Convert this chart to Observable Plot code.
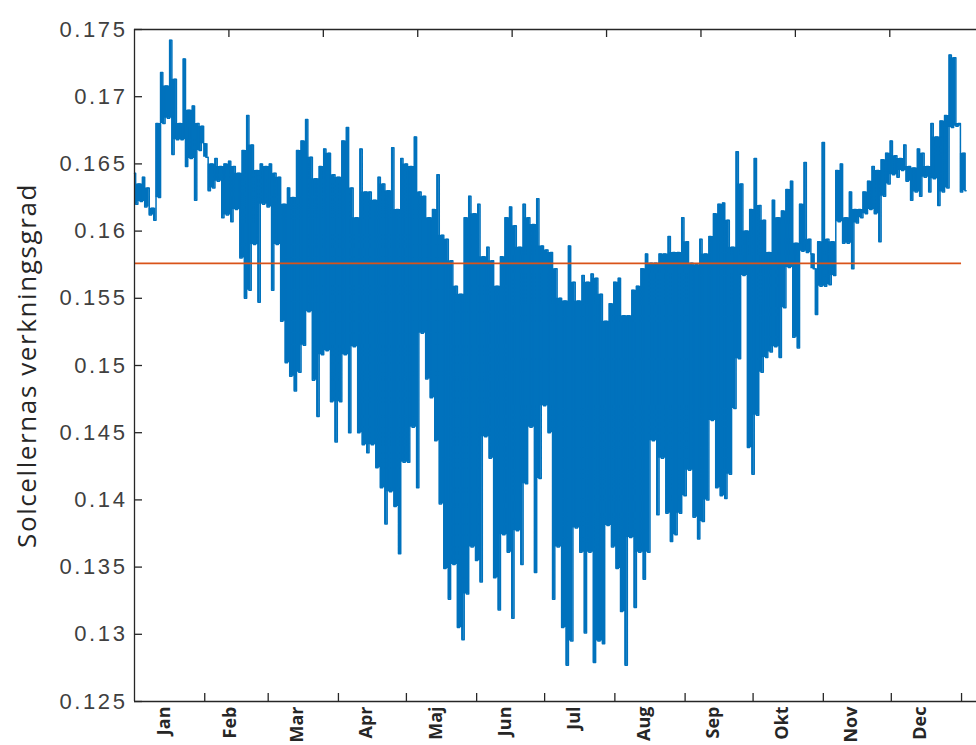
<!DOCTYPE html>
<html><head><meta charset="utf-8">
<script src="https://cdn.jsdelivr.net/npm/d3@7"></script>
<script src="https://cdn.jsdelivr.net/npm/@observablehq/plot@0.6"></script>
<style>
body{margin:0;background:#fff;}
#chart svg{display:block;}
g[font-size="22"] text{letter-spacing:2.6px;}
g[font-size="26"] text{letter-spacing:1.6px;}
</style></head><body><div id="chart"></div>
<script>
// Month labels (centred in each month) and month boundaries in day-of-year
const months = ["Jan","Feb","Mar","Apr","Maj","Jun","Jul","Aug","Sep","Okt","Nov","Dec"];
const monthStart = [0,31,59,90,120,151,181,212,243,273,304,334,365];
// Top-axis ticks are in hours of the year
const topTickHours = [1000,2000,3000,4000,5000,6000,7000,8000];
const yTicks = [0.125,0.13,0.135,0.14,0.145,0.15,0.155,0.16,0.165,0.17,0.175];
const yTitle = "Solcellernas verkningsgrad";
const meanEff = 0.1576;
const meanSpan = [0, 365];
// Envelope of the efficiency trace, one sample every 2 days (upper / lower extent)
const sampleStep = 2;
const effHigh = [
.1643,.1635,.1640,.1632,.1617,.1680,.1718,.1708,.1742,.1713,
.1680,.1728,.1690,.1693,.1680,.1678,.1655,.1650,.1654,.1648,
.1650,.1652,.1648,.1643,.1660,.1686,.1664,.1645,.1650,.1648,
.1650,.1643,.1640,.1620,.1632,.1625,.1660,.1667,.1683,.1655,
.1639,.1648,.1661,.1658,.1642,.1640,.1667,.1677,.1632,.1610,
.1661,.1629,.1629,.1623,.1640,.1635,.1630,.1662,.1616,.1654,
.1650,.1648,.1670,.1629,.1626,.1610,.1616,.1642,.1597,.1594,
.1578,.1559,.1553,.1610,.1626,.1613,.1620,.1581,.1588,.1578,
.1559,.1581,.1610,.1618,.1604,.1588,.1620,.1610,.1605,.1624,
.1589,.1586,.1584,.1572,.1550,.1548,.1589,.1562,.1548,.1567,
.1562,.1568,.1565,.1553,.1533,.1546,.1562,.1565,.1537,.1537,
.1556,.1559,.1572,.1583,.1576,.1576,.1583,.1583,.1596,.1584,
.1584,.1610,.1592,.1576,.1575,.1594,.1583,.1596,.1613,.1620,
.1621,.1608,.1588,.1659,.1635,.1600,.1616,.1654,.1619,.1608,
.1584,.1623,.1610,.1615,.1631,.1637,.1591,.1620,.1651,.1594,
.1572,.1592,.1666,.1594,.1592,.1645,.1650,.1610,.1629,.1616,
.1616,.1629,.1637,.1648,.1645,.1653,.1658,.1667,.1656,.1654,
.1664,.1648,.1647,.1661,.1658,.1648,.1680,.1670,.1682,.1686,
.1731,.1729,.1680,.1658];
const effLow = [
.1620,.1622,.1618,.1612,.1608,.1625,.1680,.1684,.1657,.1668,
.1668,.1648,.1654,.1623,.1660,.1665,.1630,.1632,.1637,.1610,
.1612,.1607,.1616,.1580,.1550,.1556,.1590,.1547,.1620,.1618,
.1556,.1590,.1533,.1502,.1492,.1481,.1495,.1515,.1540,.1489,
.1462,.1508,.1511,.1473,.1443,.1473,.1508,.1450,.1514,.1450,
.1441,.1435,.1441,.1424,.1409,.1382,.1406,.1395,.1360,.1428,
.1428,.1454,.1409,.1524,.1490,.1476,.1444,.1397,.1349,.1326,
.1352,.1305,.1296,.1330,.1365,.1355,.1339,.1447,.1431,.1342,
.1318,.1374,.1361,.1312,.1377,.1352,.1412,.1454,.1346,.1416,
.1470,.1450,.1326,.1365,.1305,.1277,.1295,.1379,.1361,.1301,
.1361,.1279,.1295,.1293,.1381,.1365,.1349,.1317,.1277,.1372,
.1320,.1361,.1341,.1361,.1444,.1389,.1431,.1390,.1369,.1374,
.1390,.1403,.1422,.1387,.1371,.1384,.1400,.1459,.1409,.1403,
.1401,.1419,.1468,.1505,.1567,.1439,.1419,.1463,.1495,.1506,
.1510,.1514,.1506,.1543,.1573,.1521,.1513,.1585,.1584,.1583,
.1538,.1559,.1559,.1560,.1567,.1607,.1591,.1591,.1572,.1606,
.1610,.1613,.1616,.1613,.1592,.1626,.1635,.1642,.1640,.1645,
.1637,.1623,.1629,.1626,.1640,.1629,.1639,.1619,.1629,.1632,
.1677,.1678,.1629,.1630];

const blue = "#0072BD", orange = "#D95319", axisCol = "#262626";
const W = 976, H = 745, mL = 134, mR = 0, mT = 29, mB = 44;
const plotW = W - mL - mR, plotH = H - mT - mB;

// zig-zag trace (upper then lower extent) and the solid interior between its strokes
const series = [], body = [];
const n = Math.min(effHigh.length, effLow.length);
for (let i = 0; i < n; i++) {
  const hi = effHigh[i], lo = effLow[i];
  const loPrev = i > 0 ? effLow[i - 1] : lo;
  const hiNext = i < n - 1 ? effHigh[i + 1] : hi;
  series.push({day: i * sampleStep, v: hi});
  series.push({day: i * sampleStep + sampleStep / 2, v: lo});
  body.push({day: i * sampleStep, y1: Math.max(loPrev, lo), y2: hi});
  body.push({day: i * sampleStep + sampleStep / 2, y1: lo, y2: Math.min(hi, hiNext)});
}
const monthMid = months.map((m, i) => ({m, d: (monthStart[i] + monthStart[i + 1]) / 2}));
const topTickDays = topTickHours.map(h => h / 24);
const fmt = v => String(+v.toFixed(3));

const chart = Plot.plot({
  width: W, height: H,
  marginLeft: mL, marginRight: mR, marginTop: mT, marginBottom: mB,
  x: {domain: [0, 371.6], axis: null},
  y: {domain: [0.125, 0.175], axis: null},
  style: {fontFamily: "'Liberation Sans', Arial, sans-serif", background: "#fff"},
  marks: [
    Plot.areaY(body, {x: "day", y1: "y1", y2: "y2", curve: "step", fill: blue}),
    Plot.lineY(series, {x: "day", y: "v", curve: "step", stroke: blue, strokeWidth: 1.5}),
    Plot.ruleY([meanEff], {x1: meanSpan[0], x2: meanSpan[1], stroke: orange, strokeWidth: 1.6}),
    // frame: left, bottom, top
    Plot.ruleX([0], {stroke: axisCol, strokeWidth: 1.3}),
    Plot.ruleY([0.125, 0.175], {stroke: axisCol, strokeWidth: 1.3}),
    // inward ticks
    Plot.tickY(yTicks, {y: d => d, insetRight: plotW - 8, stroke: axisCol, strokeWidth: 1.3}),
    Plot.tickX(monthStart.slice(1), {x: d => d, insetTop: plotH - 8, stroke: axisCol, strokeWidth: 1.3}),
    Plot.tickX(topTickDays, {x: d => d, insetBottom: plotH - 8, stroke: axisCol, strokeWidth: 1.3}),
    // y tick labels
    Plot.text(yTicks, {y: d => d, text: d => fmt(d), frameAnchor: "left", textAnchor: "end", dx: -7,
      fontSize: 22, fill: "#404040"}),
    // month labels
    Plot.text(monthMid, {x: "d", text: "m", frameAnchor: "bottom", rotate: -90, textAnchor: "end", dy: 5,
      fontSize: 18, fontWeight: "bold", fill: axisCol, fontFamily: "'Open Sans', sans-serif"}),
    // y title
    Plot.text([yTitle], {text: d => d, frameAnchor: "left", textAnchor: "middle", rotate: -90, dx: -107,
      fontSize: 26, fill: axisCol, fontFamily: "'Open Sans', sans-serif"})
  ]
});
document.getElementById("chart").append(chart);
</script>
</body></html>
